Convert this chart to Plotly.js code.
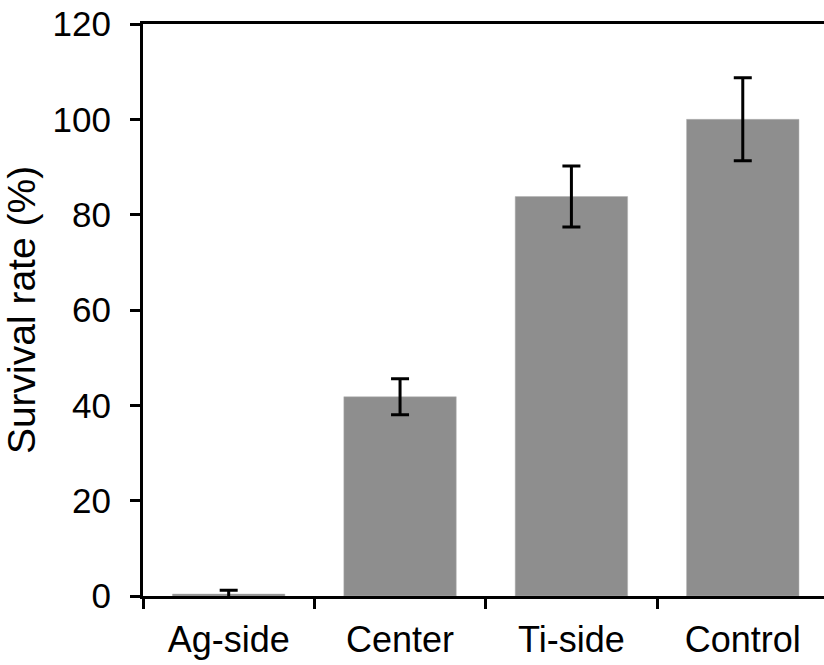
<!DOCTYPE html>
<html>
<head>
<meta charset="utf-8">
<script src="https://cdn.plot.ly/plotly-3.0.1.min.js"></script>
<style>html,body{margin:0;padding:0;background:#fff;overflow:hidden}</style>
</head>
<body>
<div id="chart" style="width:824px;height:665px"></div>
<script>
const categories = ["Ag-side", "Center", "Ti-side", "Control"];
const survival = [0.4, 41.8, 83.8, 100];
const errors = [0.8, 3.8, 6.4, 8.7];
const yTicks = [0, 20, 40, 60, 80, 100, 120];

const trace = {
  type: "bar",
  x: categories,
  y: survival,
  marker: {color: "#8e8e8e", line: {color: "#b0b0b0", width: 0.5}},
  error_y: {type: "data", array: errors, visible: true, color: "#000", thickness: 3, width: 9},
  hoverinfo: "none"
};

const layout = {
  width: 824, height: 665,
  margin: {l: 143, r: 0, t: 24, b: 69},
  paper_bgcolor: "#fff", plot_bgcolor: "#fff",
  bargap: 0.344,
  showlegend: false,
  font: {family: "Liberation Sans, Arial, sans-serif", color: "#000", size: 34},
  xaxis: {
    type: "category",
    range: [-0.5, 3.474],
    tickson: "boundaries",
    ticks: "outside", ticklen: 10, tickwidth: 3, tickcolor: "#000",
    showline: true, linewidth: 3, linecolor: "#000", mirror: true,
    showgrid: false, zeroline: false,
    tickfont: {size: 36},
    ticklabelstandoff: 10
  },
  yaxis: {
    range: [0, 120],
    tickvals: yTicks,
    ticktext: yTicks.map(String),
    ticks: "outside", ticklen: 10, tickwidth: 3, tickcolor: "#000",
    showline: true, linewidth: 3, linecolor: "#000",
    showgrid: false, zeroline: false,
    tickfont: {size: 35},
    ticklabelstandoff: 12,
    title: {text: "Survival rate (%)", font: {size: 39}, standoff: 12}
  }
};

Plotly.newPlot("chart", [trace], layout, {displayModeBar: false, staticPlot: true});
</script>
</body>
</html>
